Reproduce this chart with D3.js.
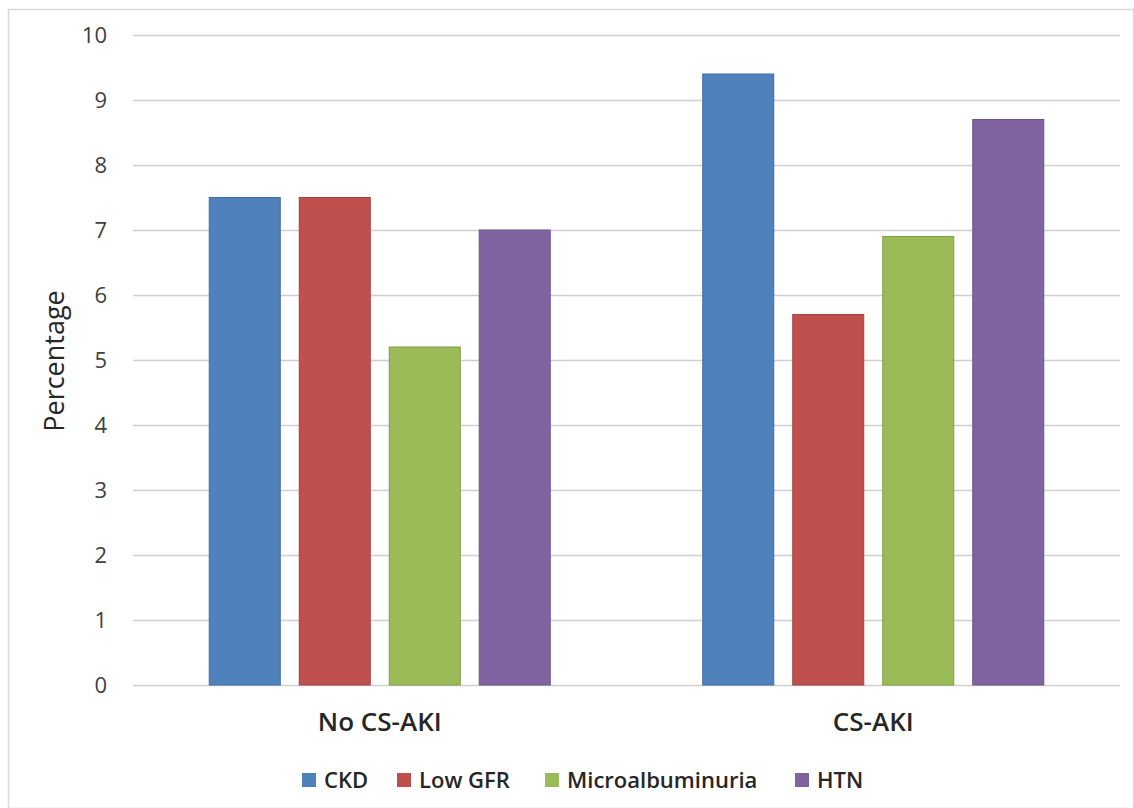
<!DOCTYPE html>
<html><head><meta charset="utf-8">
<script src="https://cdn.jsdelivr.net/npm/d3@7"></script>
<style>body{margin:0;background:#fff;}svg{display:block;}</style>
</head><body>
<script>
const groups = ["No CS-AKI", "CS-AKI"];
const seriesNames = ["CKD", "Low GFR", "Microalbuminuria", "HTN"];
const seriesColors = ["#4F81BD", "#C0504D", "#9BBB59", "#8064A2"];
const ckd = [7.5, 9.4];
const lowGfr = [7.5, 5.7];
const microalbuminuria = [5.2, 6.9];
const htn = [7.0, 8.7];
const yTicks = [0,1,2,3,4,5,6,7,8,9,10];
const seriesValues = [ckd, lowGfr, microalbuminuria, htn];

const W = 1134, H = 808;
const svg = d3.select("body").append("svg").attr("width", W).attr("height", H);
const font = "'Open Sans', 'Noto Sans', sans-serif";

svg.append("rect").attr("x", 8.5).attr("y", 9.5).attr("width", W - 9).attr("height", H - 9)
  .attr("fill", "#fff").attr("stroke", "#d9d9d9").attr("stroke-width", 1.5);

const x0 = d3.scaleBand().domain(groups).range([133, 1120]);
const innerSpan = 341;
const offset = (x0.bandwidth() - innerSpan) / 2;
const x1 = d3.scaleBand().domain(seriesNames).range([offset, offset + innerSpan])
  .paddingInner(19/90).paddingOuter(0);
const y = d3.scaleLinear().domain([0, 10]).range([685, 35]);

// gridlines
svg.append("g").selectAll("line").data(yTicks).join("line")
  .attr("x1", 133).attr("x2", 1120)
  .attr("y1", d => Math.round(y(d)) + 0.5).attr("y2", d => Math.round(y(d)) + 0.5)
  .attr("stroke", "#d0d0d0").attr("stroke-width", 1.5);

// y axis labels
const yAxis = d3.axisLeft(y).tickValues(yTicks).tickSize(0).tickPadding(0).tickFormat(d3.format("d"));
const ya = svg.append("g").attr("transform", "translate(107,0)").call(yAxis);
ya.select(".domain").remove();
ya.selectAll("text").attr("font-family", font).attr("font-size", 22).attr("fill", "#404040");

// bars
const gGroups = svg.append("g").selectAll("g").data(groups).join("g")
  .attr("transform", d => `translate(${x0(d)},0)`);
gGroups.selectAll("rect").data((g, gi) => seriesNames.map((s, si) => ({s, si, v: seriesValues[si][gi]})))
  .join("rect")
  .attr("x", d => x1(d.s))
  .attr("width", x1.bandwidth())
  .attr("y", d => y(d.v))
  .attr("height", d => y(0) - y(d.v))
  .attr("fill", d => seriesColors[d.si])
  .attr("stroke", d => d3.color(seriesColors[d.si]).darker(0.5))
  .attr("stroke-width", 1);

// x axis labels
const xAxis = d3.axisBottom(x0).tickSize(0).tickPadding(0);
const xa = svg.append("g").attr("transform", "translate(0,713)").call(xAxis);
xa.select(".domain").remove();
xa.selectAll("text").attr("font-family", font).attr("font-size", 26).attr("font-weight", 600).attr("fill", "#262626");

// y title
svg.append("text").attr("transform", "translate(64,361) rotate(-90)")
  .attr("text-anchor", "middle").attr("font-family", font).attr("font-size", 27).attr("font-weight", 500)
  .attr("fill", "#262626").text("Percentage");

// legend
const legendX = [302, 397, 545, 795];
const lg = svg.append("g").selectAll("g").data(seriesNames).join("g")
  .attr("transform", (d, i) => `translate(${legendX[i]},773)`);
lg.append("rect").attr("width", 14).attr("height", 14).attr("y", 0)
  .attr("fill", (d, i) => seriesColors[i]);
lg.append("text").attr("x", 22).attr("y", 14.5).attr("font-family", font).attr("font-size", 22)
  .attr("font-weight", 600).attr("fill", "#262626").text(d => d);
</script>
</body></html>
